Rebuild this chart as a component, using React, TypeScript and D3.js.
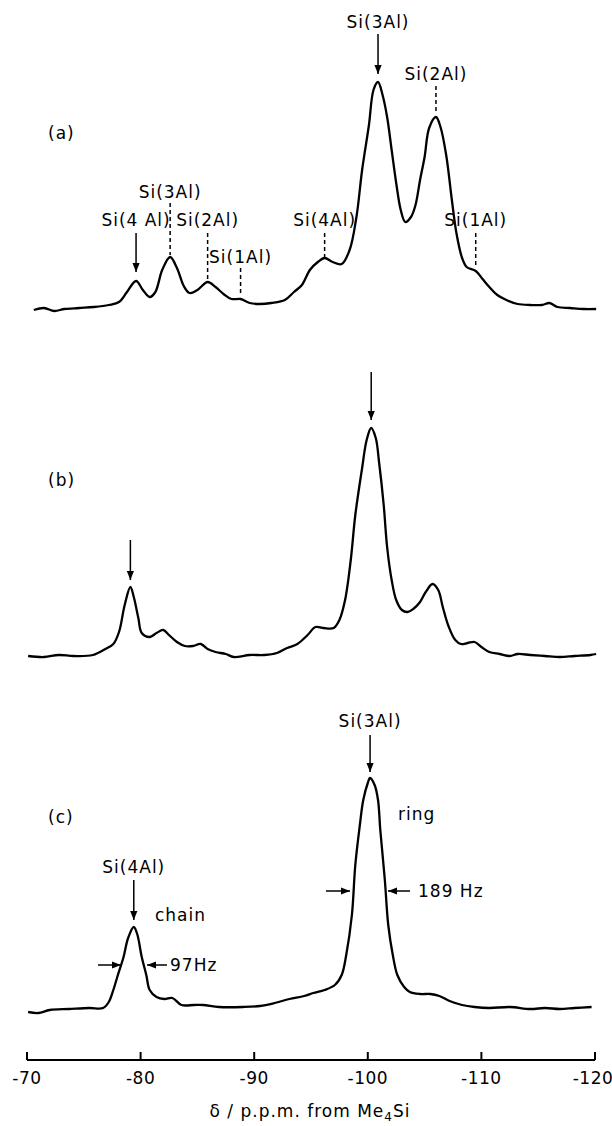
import React from "react";
import * as d3 from "d3";

// 29Si MAS NMR spectra, chemical shift (ppm) vs intensity (arbitrary units above baseline)
const ppmA = [-70.6, -71.5, -72.4, -73.3, -74.6, -75.9, -77.2, -78.1, -78.8, -79.6, -80.2, -80.8, -81.3, -81.9, -82.6, -83.2, -83.8, -84.3, -85.0, -85.9, -86.6, -87.3, -88.0, -88.8, -89.6, -90.5, -91.5, -92.7, -93.5, -94.2, -94.9, -95.6, -96.2, -96.9, -97.7, -98.4, -99.0, -99.5, -100.1, -100.5, -100.9, -101.3, -101.7, -102.1, -102.5, -102.9, -103.3, -103.8, -104.2, -104.6, -105.0, -105.4, -106.0, -106.4, -106.9, -107.4, -107.8, -108.3, -108.7, -109.5, -110.1, -110.7, -111.4, -112.2, -113.2, -114.3, -115.3, -116.0, -116.7, -117.8, -119.0, -120.1];
const intA = [0, 2, -1, 1, 2, 3, 5, 8, 18, 29, 20, 13, 18, 40, 53, 42, 24, 17, 20, 28, 23, 16, 11, 11, 7, 6, 7, 10, 18, 25, 40, 48, 52, 48, 46, 60, 93, 140, 185, 220, 228, 215, 193, 160, 127, 100, 88, 93, 105, 130, 153, 182, 193, 183, 155, 110, 77, 52, 43, 39, 31, 23, 15, 10, 6, 5, 5, 7, 3, 2, 1, 1];

const ppmB = [-70.1, -71.5, -72.8, -74.1, -75.8, -76.9, -77.6, -78.1, -78.6, -79.1, -79.4, -79.8, -80.1, -80.8, -81.4, -82.0, -82.5, -83.2, -83.9, -84.6, -85.3, -85.9, -86.6, -87.5, -88.2, -89.6, -90.9, -92.0, -92.9, -93.8, -94.7, -95.4, -96.1, -97.0, -97.5, -98.0, -98.5, -98.9, -99.5, -99.9, -100.3, -100.7, -101.0, -101.4, -101.7, -102.1, -102.5, -103.0, -103.5, -104.0, -104.6, -105.1, -105.7, -106.2, -106.6, -107.1, -107.7, -108.2, -108.8, -109.4, -110.0, -110.7, -111.6, -112.5, -113.2, -114.3, -115.6, -116.9, -118.2, -119.6, -120.1];
const intB = [0, -1, 1, 0, 1, 7, 12, 24, 51, 69, 59, 38, 23, 19, 23, 26, 21, 14, 10, 10, 12, 7, 4, 2, -1, 1, 1, 3, 8, 12, 21, 29, 28, 28, 36, 56, 96, 141, 188, 216, 228, 218, 193, 151, 109, 76, 56, 46, 44, 47, 54, 64, 72, 66, 49, 30, 16, 12, 13, 14, 9, 4, 2, 0, 2, 1, 0, -1, 0, 1, 2];

const ppmC = [-70.1, -71.0, -72.0, -73.7, -75.5, -76.7, -77.2, -77.6, -78.0, -78.5, -78.9, -79.4, -79.7, -80.1, -80.5, -80.8, -81.4, -82.1, -82.8, -83.6, -84.7, -85.5, -86.9, -89.0, -90.5, -91.8, -93.1, -94.4, -95.2, -96.2, -97.1, -97.7, -98.1, -98.6, -98.9, -99.3, -99.6, -100.0, -100.2, -100.6, -100.9, -101.1, -101.5, -101.8, -102.2, -102.6, -103.2, -103.7, -104.6, -105.5, -106.3, -107.2, -108.3, -109.4, -110.7, -112.5, -114.3, -115.6, -116.9, -118.2, -119.7];
const intC = [-4, -5, -2, -1, 0, 0, 6, 18, 33, 51, 70, 81, 74, 51, 33, 18, 11, 9, 10, 3, 3, 3, 1, 1, 2, 5, 9, 12, 15, 18, 23, 33, 53, 93, 143, 183, 208, 225, 230, 223, 208, 178, 128, 83, 53, 33, 21, 16, 14, 14, 12, 7, 3, 1, 0, 1, -1, 0, -1, 0, 1];

const tickValues = [-70, -80, -90, -100, -110, -120];
const panelLetters = ["(a)", "(b)", "(c)"];

const W = 612;
const H = 1126;
const FONT = "DejaVu Sans, sans-serif";

const x = d3.scaleLinear().domain([-70, -120]).range([27, 595]);
const baselines = [310, 656, 1008];

function toPoints(ppm: number[], val: number[]) {
  return ppm.map((p, i) => [p, val[i]] as [number, number]);
}

const spectra = [toPoints(ppmA, intA), toPoints(ppmB, intB), toPoints(ppmC, intC)];

// label annotations: ppm position, text y, marker top / bottom, arrow or dashed
const notes = [
  { t: "Si(3Al)", ppm: -100.9, ty: 28, y1: 34, y2: 74, kind: "arrow" },
  { t: "Si(2Al)", ppm: -106.0, ty: 80, y1: 86, y2: 111, kind: "dash" },
  { t: "Si(3Al)", ppm: -82.6, ty: 198, y1: 203, y2: 255, kind: "dash" },
  { t: "Si(4 Al)", ppm: -79.6, ty: 226, y1: 233, y2: 272, kind: "arrow" },
  { t: "Si(2Al)", ppm: -85.9, ty: 226, y1: 233, y2: 280, kind: "dash" },
  { t: "Si(1Al)", ppm: -88.8, ty: 263, y1: 268, y2: 296, kind: "dash" },
  { t: "Si(4Al)", ppm: -96.2, ty: 226, y1: 233, y2: 257, kind: "dash" },
  { t: "Si(1Al)", ppm: -109.5, ty: 226, y1: 233, y2: 268, kind: "dash" },
  { t: "", ppm: -100.3, ty: 0, y1: 372, y2: 420, kind: "arrow" },
  { t: "", ppm: -79.1, ty: 0, y1: 540, y2: 580, kind: "arrow" },
  { t: "Si(3Al)", ppm: -100.2, ty: 727, y1: 735, y2: 772, kind: "arrow" },
  { t: "Si(4Al)", ppm: -79.4, ty: 873, y1: 880, y2: 920, kind: "arrow" },
];

const App = () => {
  const line = (base: number) =>
    d3
      .line<[number, number]>()
      .x((d) => x(d[0]))
      .y((d) => base - d[1])
      .curve(d3.curveCatmullRom.alpha(0.5));

  const textStyle = { fontFamily: FONT, fontSize: 17, letterSpacing: 1 };

  return (
    <svg
      width={W}
      height={H}
      style={{ position: "absolute", left: 0, top: 0, background: "#fff" }}
    >
      <defs>
        <marker id="ah" viewBox="0 0 10 10" refX="10" refY="5" markerWidth="9" markerHeight="9" markerUnits="userSpaceOnUse" orient="auto">
          <path d="M0,1 L10,5 L0,9 Z" fill="#000" />
        </marker>
      </defs>
      <rect width={W} height={H} fill="#fff" />

      {spectra.map((s, i) => (
        <path key={i} d={line(baselines[i])(s) || ""} fill="none" stroke="#000" strokeWidth={2.3} strokeLinejoin="round" />
      ))}

      {panelLetters.map((l, i) => (
        <text key={l} x={48} y={[139, 486, 823][i]} {...textStyle}>
          {l}
        </text>
      ))}

      {notes.map((n, i) => {
        const px = x(n.ppm);
        return (
          <g key={i}>
            {n.t && (
              <text x={px} y={n.ty} textAnchor="middle" {...textStyle}>
                {n.t}
              </text>
            )}
            <line
              x1={px}
              x2={px}
              y1={n.y1}
              y2={n.y2}
              stroke="#000"
              strokeWidth={1.5}
              strokeDasharray={n.kind === "dash" ? "4,3" : undefined}
              markerEnd={n.kind === "arrow" ? "url(#ah)" : undefined}
            />
          </g>
        );
      })}

      {/* (c) extras */}
      <text x={398} y={820} {...textStyle}>ring</text>
      <text x={155} y={921} {...textStyle}>chain</text>
      <line x1={98} x2={121} y1={965} y2={965} stroke="#000" strokeWidth={1.5} markerEnd="url(#ah)" />
      <line x1={167} x2={147} y1={965} y2={965} stroke="#000" strokeWidth={1.5} markerEnd="url(#ah)" />
      <text x={170} y={971} {...textStyle}>97Hz</text>
      <line x1={326} x2={350} y1={891} y2={891} stroke="#000" strokeWidth={1.5} markerEnd="url(#ah)" />
      <line x1={410} x2={388} y1={891} y2={891} stroke="#000" strokeWidth={1.5} markerEnd="url(#ah)" />
      <text x={418} y={897} {...textStyle}>189 Hz</text>

      {/* axis */}
      <line x1={x(-70)} x2={x(-120)} y1={1060} y2={1060} stroke="#000" strokeWidth={2} />
      {tickValues.map((t) => (
        <g key={t}>
          <line x1={x(t)} x2={x(t)} y1={1060} y2={1052} stroke="#000" strokeWidth={2} />
          <text
            x={Math.min(x(t), W - 19)}
            y={1084}
            textAnchor="middle"
            fontFamily={FONT}
            fontSize={17}
            letterSpacing={0.5}
          >
            {"-" + Math.abs(t)}
          </text>
        </g>
      ))}
      <text x={310} y={1117} textAnchor="middle" {...textStyle}>
        δ / p.p.m.  from  Me
        <tspan dy={4} fontSize={12}>4</tspan>
        <tspan dy={-4}>Si</tspan>
      </text>
    </svg>
  );
};

export default App;
